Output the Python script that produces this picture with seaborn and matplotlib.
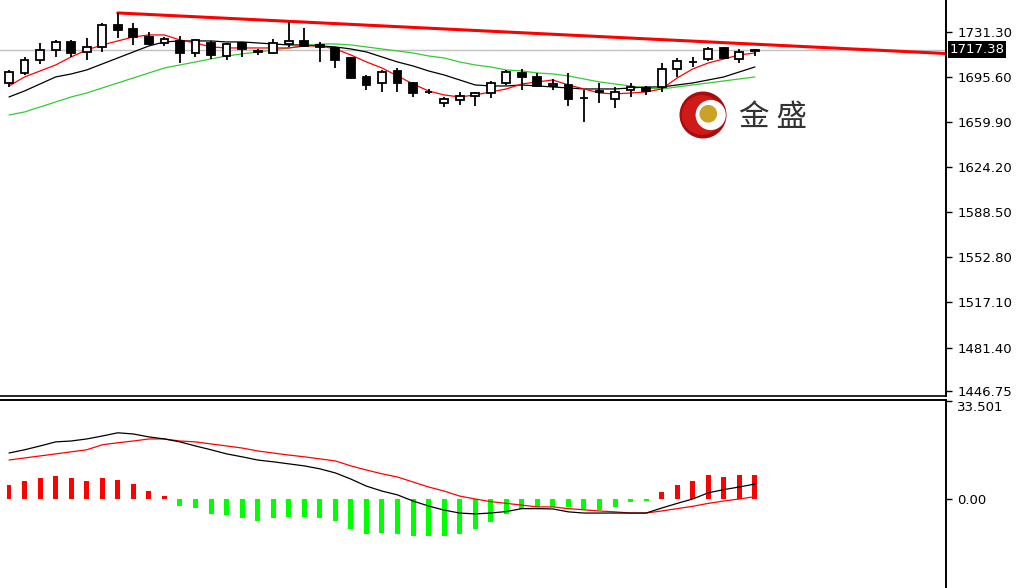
import numpy as np
import seaborn as sns
import matplotlib.pyplot as plt
import matplotlib.transforms as mtransforms
from matplotlib.patches import Circle

# price candles
opens = [1690.90, 1698.82, 1709.12, 1717.04, 1723.38, 1715.46, 1719.42, 1736.84, 1733.67, 1727.34,
         1722.58, 1724.17, 1714.66, 1722.58, 1712.29, 1722.58, 1715.46, 1714.66, 1721.79, 1724.17,
         1721.00, 1718.62, 1710.70, 1695.66, 1690.90, 1700.41, 1690.90, 1683.78, 1675.06, 1677.44,
         1680.61, 1682.98, 1690.90, 1698.82, 1695.66, 1688.53, 1689.32, 1679.02, 1683.78, 1678.23,
         1685.36, 1686.94, 1687.74, 1701.99, 1707.54, 1709.91, 1718.62, 1709.91, 1716.25]
highs = [1701.20, 1711.50, 1722.58, 1724.96, 1724.96, 1726.54, 1738.43, 1746.35, 1738.43, 1731.30,
         1727.34, 1728.13, 1725.75, 1724.17, 1722.58, 1723.38, 1717.83, 1725.75, 1739.22, 1734.46,
         1723.38, 1719.42, 1711.50, 1697.24, 1701.20, 1702.78, 1691.70, 1686.15, 1679.82, 1683.78,
         1683.78, 1692.49, 1701.20, 1701.99, 1698.82, 1694.07, 1698.82, 1685.36, 1690.90, 1687.74,
         1690.90, 1688.53, 1706.74, 1710.70, 1711.50, 1719.42, 1719.42, 1717.83, 1717.83]
lows = [1687.74, 1697.24, 1705.95, 1711.50, 1711.50, 1709.12, 1715.46, 1726.54, 1721.00, 1721.00,
        1720.21, 1706.74, 1711.50, 1709.91, 1709.12, 1711.50, 1713.08, 1713.87, 1719.42, 1719.42,
        1707.54, 1702.78, 1694.07, 1685.36, 1683.78, 1683.78, 1679.82, 1682.19, 1671.90, 1673.48,
        1672.69, 1679.02, 1689.32, 1685.36, 1687.74, 1685.36, 1672.69, 1660.02, 1675.06, 1671.10,
        1679.82, 1681.40, 1683.78, 1695.66, 1703.58, 1708.33, 1709.91, 1706.74, 1712.29]
closes = [1699.62, 1709.12, 1717.04, 1723.38, 1714.66, 1719.42, 1736.84, 1732.88, 1727.34, 1721.79,
          1725.75, 1714.66, 1724.96, 1713.08, 1721.79, 1717.83, 1716.25, 1722.58, 1724.17, 1720.21,
          1719.42, 1709.12, 1694.86, 1689.32, 1699.62, 1690.90, 1682.98, 1683.78, 1678.23, 1680.61,
          1682.98, 1690.90, 1699.62, 1695.66, 1688.53, 1690.11, 1678.23, 1679.02, 1684.57, 1683.78,
          1687.74, 1684.57, 1701.99, 1708.33, 1707.54, 1717.83, 1710.70, 1715.46, 1717.38]

# moving averages
ma_fast = [1688.53, 1695.66, 1700.41, 1705.16, 1711.50, 1717.04, 1721.00, 1724.17, 1727.34, 1728.92,
           1728.92, 1724.96, 1722.58, 1719.42, 1718.62, 1718.62, 1718.62, 1718.62, 1718.62, 1720.21,
           1720.21, 1717.83, 1713.08, 1707.54, 1702.78, 1696.45, 1690.11, 1684.57, 1681.40, 1679.82,
           1681.40, 1683.78, 1686.15, 1690.11, 1691.70, 1693.28, 1689.32, 1686.15, 1682.98, 1682.19,
           1682.98, 1683.78, 1686.15, 1694.86, 1701.99, 1706.74, 1709.91, 1713.08, 1714.66]
ma_mid = [1679.82, 1684.57, 1690.11, 1695.66, 1698.03, 1701.20, 1705.95, 1710.70, 1715.46, 1720.21,
          1723.38, 1724.17, 1724.17, 1724.17, 1723.38, 1723.38, 1722.58, 1721.79, 1721.00, 1721.00,
          1720.21, 1719.42, 1717.83, 1715.46, 1711.50, 1707.54, 1704.37, 1700.41, 1697.24, 1693.28,
          1689.32, 1688.53, 1688.53, 1689.32, 1688.53, 1687.74, 1686.94, 1686.15, 1686.15, 1686.15,
          1686.94, 1687.74, 1687.74, 1689.32, 1690.90, 1693.28, 1695.66, 1699.62, 1703.58]
ma_slow = [1665.56, 1667.94, 1671.90, 1675.86, 1679.82, 1682.98, 1686.94, 1690.90, 1694.86, 1698.82,
           1702.78, 1705.16, 1707.54, 1709.91, 1712.29, 1713.87, 1715.46, 1717.04, 1718.62, 1720.21,
           1721.79, 1721.79, 1721.00, 1719.42, 1717.83, 1716.25, 1714.66, 1712.29, 1710.70, 1707.54,
           1705.16, 1703.58, 1701.20, 1700.41, 1698.82, 1698.03, 1696.45, 1694.07, 1691.70, 1690.11,
           1688.53, 1686.94, 1686.15, 1687.74, 1689.32, 1690.90, 1692.49, 1694.07, 1695.66]

# MACD panel
macd_dif = [15.7, 16.8, 18.1, 19.5, 19.8, 20.5, 21.5, 22.6, 22.2, 21.2,
            20.5, 19.5, 18.1, 16.8, 15.4, 14.4, 13.3, 12.7, 12.0, 11.3,
            10.3, 8.9, 6.8, 4.4, 2.7, 1.4, -0.7, -2.4, -3.8, -4.8,
            -5.1, -4.8, -4.3, -3.3, -3.3, -3.4, -4.4, -4.8, -4.8, -4.8,
            -4.8, -4.8, -3.1, -1.5, 0.0, 2.1, 3.2, 4.1, 5.1]
macd_dea = [13.3, 14.0, 14.7, 15.4, 16.1, 16.8, 18.5, 19.2, 19.8, 20.5,
            20.5, 19.8, 19.5, 18.8, 18.1, 17.4, 16.4, 15.7, 15.0, 14.4,
            13.7, 13.0, 11.3, 9.9, 8.6, 7.5, 5.8, 4.1, 2.7, 1.0,
            0.0, -0.9, -1.5, -2.1, -2.7, -2.7, -3.3, -3.7, -4.1, -4.4,
            -4.8, -4.8, -4.1, -3.3, -2.5, -1.5, -0.7, 0.0, 0.8]
macd_hist = [4.8, 6.2, 7.2, 7.9, 7.2, 6.2, 7.2, 6.5, 5.1, 2.7,
             1.0, -2.4, -3.1, -5.1, -5.5, -6.5, -7.5, -6.5, -6.2, -6.2,
             -6.5, -7.5, -10.3, -12.0, -11.6, -12.0, -12.7, -12.7, -12.7, -12.0,
             -10.3, -7.9, -5.1, -3.3, -2.7, -2.7, -2.7, -3.3, -3.9, -2.7,
             -1.2, -0.7, 2.4, 4.8, 6.2, 8.2, 7.5, 8.2, 8.2]

price_ticks = [1731.30, 1695.60, 1659.90, 1624.20, 1588.50, 1552.80, 1517.10, 1481.40, 1446.75]
price_tick_labels = ['1731.30', '1695.60', '1659.90', '1624.20', '1588.50',
                     '1552.80', '1517.10', '1481.40', '1446.75']
last_price = 1717.38
trend_x = [7, 60.3]
trend_y = [1746.35, 1714.2]
macd_top = 33.501

sns.set_style('white')
plt.rcParams['font.family'] = ['DejaVu Sans']

W, H = 1024, 588
fig = plt.figure(figsize=(W / 100, H / 100), dpi=100)
ax = fig.add_axes([0, 1 - 396 / H, 946 / W, 396 / H])
ax2 = fig.add_axes([0, 0, 946 / W, 188 / H])

idx = np.arange(len(closes))
xlim = (-0.58, 60.3)

# bid line and resistance trend line
ax.axhline(last_price, color='#c0c0c0', lw=1, zorder=1)
ax.plot(trend_x, trend_y, color='#ff0000', lw=2.2, zorder=2)

# moving averages
sns.lineplot(x=idx, y=ma_slow, ax=ax, color='#33cc33', lw=0.9, zorder=3)
sns.lineplot(x=idx, y=ma_mid, ax=ax, color='black', lw=0.9, zorder=3)
sns.lineplot(x=idx, y=ma_fast, ax=ax, color='#ff0000', lw=0.9, zorder=3)

# candles
o = np.array(opens); c = np.array(closes)
ax.vlines(idx, lows, highs, color='black', lw=1.3, zorder=4)
body_col = ['white' if cc >= oo else 'black' for oo, cc in zip(o, c)]
ax.bar(idx, c - o, bottom=o, width=0.5, color=body_col, edgecolor='black',
       linewidth=1.3, zorder=5)

ax.set_xlim(*xlim)
ax.set_ylim(1443.0, 1756.6)
ax.set_xticks([])
ax.yaxis.tick_right()
ax.set_yticks(price_ticks)
ax.set_yticklabels(price_tick_labels)
ax.tick_params(axis='y', direction='out', length=4, width=1, pad=4,
               labelsize=9.5, colors='black', right=True, left=False)
for s in ['top', 'left']:
    ax.spines[s].set_visible(False)
ax.spines['right'].set_linewidth(1.4)
ax.spines['bottom'].set_linewidth(1.2)
ax.spines['right'].set_color('black')
ax.spines['bottom'].set_color('black')
ax.set_ylabel('')

trans = mtransforms.blended_transform_factory(ax.transAxes, ax.transData)
ax.text(1.004, last_price, '1717.38', transform=trans, color='white', fontsize=9.5,
        va='center', ha='left',
        bbox=dict(facecolor='black', edgecolor='none', pad=1.2))

# MACD panel
hist_col = ['#ff0000' if v > 0 else '#00ff00' for v in macd_hist]
ax2.bar(idx, macd_hist, width=0.32, color=hist_col, linewidth=0, zorder=2)
sns.lineplot(x=idx, y=macd_dea, ax=ax2, color='#ff0000', lw=0.9, zorder=3)
sns.lineplot(x=idx, y=macd_dif, ax=ax2, color='black', lw=0.9, zorder=3)
ax2.set_xlim(*xlim)
ax2.set_ylim(-30.4, macd_top + 0.3)
ax2.set_xticks([])
ax2.yaxis.tick_right()
ax2.set_yticks([macd_top, 0])
ax2.set_yticklabels(['33.501', '0.00'])
ax2.tick_params(axis='y', direction='out', length=4, width=1, pad=4,
                labelsize=9.5, colors='black', right=True, left=False)
ax2.get_yticklabels()[0].set_va('top')
ax2.spines['left'].set_visible(False)
ax2.spines['bottom'].set_visible(False)
ax2.spines['top'].set_linewidth(1.4)
ax2.spines['right'].set_linewidth(1.4)
ax2.spines['top'].set_color('black')
ax2.spines['right'].set_color('black')
ax2.set_ylabel('')

# watermark logo
lax = fig.add_axes([679 / W, 1 - 139 / H, 48 / W, 48 / H])
lax.set_xlim(-1, 1); lax.set_ylim(-1, 1); lax.set_aspect('equal'); lax.axis('off')
lax.add_patch(Circle((0, 0), 0.95, color='#a80c0c'))
lax.add_patch(Circle((-0.05, 0), 0.8, color='#d01a1a'))
lax.add_patch(Circle((0.32, 0.0), 0.6, color='white'))
lax.add_patch(Circle((0.22, 0.05), 0.34, color='#c9a227'))
fig.text(773 / W, 1 - 117 / H, '金 盛', fontsize=22, color='#333333', ha='center', va='center',
         family=['Noto Sans CJK SC', 'DejaVu Sans'])

fig.savefig('out.png', dpi=100)
